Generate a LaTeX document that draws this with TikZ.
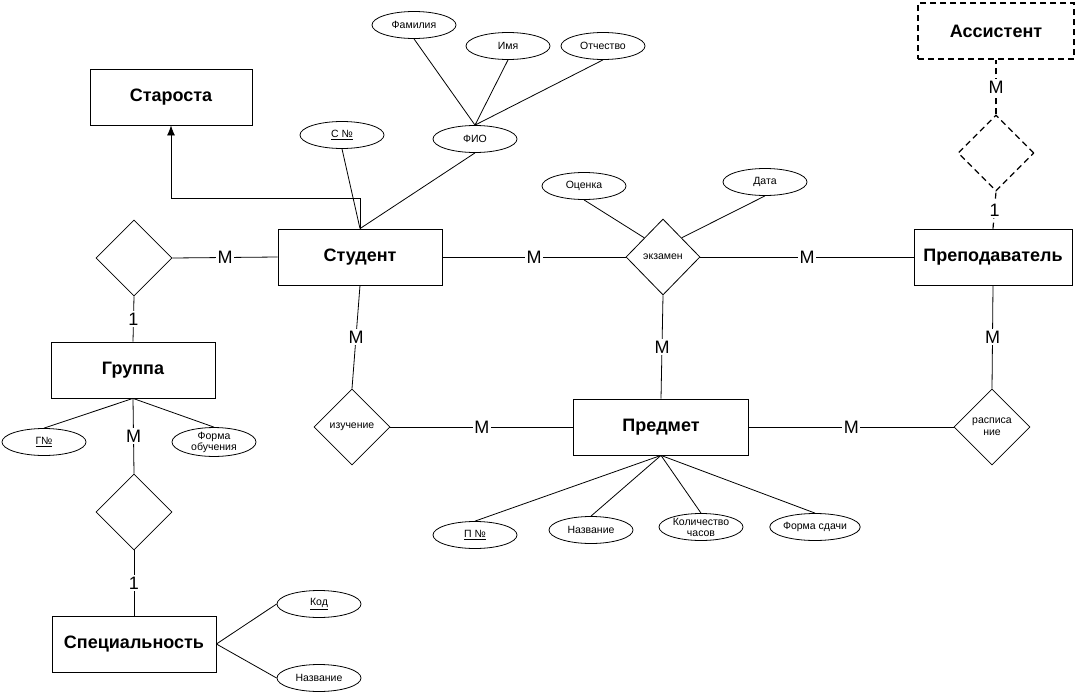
\documentclass[tikz,border=0pt]{standalone}
\usepackage{fontspec}
\setmainfont{Liberation Sans}
\usetikzlibrary{arrows,arrows.meta,shapes}

\begin{document}
\begin{tikzpicture}[x=1pt,y=-1pt,>={Latex[length=10pt,width=8pt]},line width=0.8pt]
  \tikzstyle{entity}=[rectangle,draw,minimum width=164pt,minimum height=56pt,
              font=\fontsize{18}{20}\selectfont\bfseries]
  \tikzstyle{relation}=[diamond,draw,minimum width=76pt,minimum height=76pt,
              inner sep=0pt,align=center,font=\fontsize{10.5}{12}\selectfont]
  \tikzstyle{attr}=[ellipse,draw,minimum width=84pt,minimum height=27pt,
              inner sep=0pt,align=center,font=\fontsize{10.5}{11}\selectfont]
  \tikzstyle{card}=[fill=white,inner sep=1.5pt,font=\fontsize{18}{18}\selectfont]
  \tikzstyle{weak}=[dash pattern=on 6pt off 4pt]
  \useasboundingbox (0,0) rectangle (1076,696);

  % entities
  \node [entity,minimum width=162pt] (star) at (171,97) {Староста};
  \node [entity] (stud) at (360,257) {Студент};
  \node [entity,minimum width=158pt] (prep) at (993,257) {Преподаватель};
  \node [entity,minimum width=156pt,weak,line width=1.6pt] (asst) at (996,31) {Ассистент};
  \node [entity] (grp) at (133,370) {Группа};
  \node [entity] (spec) at (134,644) {Специальность};
  \node [entity,minimum width=175pt] (subj) at (661,427) {Предмет};

  % relations
  \node [relation] (r1) at (134,258) {};
  \node [relation] (r2) at (134,512) {};
  \node [relation,minimum width=74pt] (ekz) at (663,257) {экзамен};
  \node [relation] (izu) at (352,427) {изучение};
  \node [relation] (rasp) at (992,427) {расписа\\ние};
  \node [relation,weak,line width=1.2pt] (r3) at (996,153) {};

  % attributes
  \node [attr] (fam) at (414,25) {Фамилия};
  \node [attr] (imya) at (508,46) {Имя};
  \node [attr] (otch) at (603,46) {Отчество};
  \node [attr] (fio) at (475,139) {ФИО};
  \node [attr] (cnum) at (342,135) {\underline{С №}};
  \node [attr] (ocen) at (584,186) {Оценка};
  \node [attr] (data) at (765,182) {Дата};
  \node [attr] (gnum) at (44,442) {\underline{Г№}};
  \node [attr] (forma) at (214,442) {Форма\\обучения};
  \node [attr] (pnum) at (475,535) {\underline{П №}};
  \node [attr] (nazv) at (591,530) {Название};
  \node [attr] (kolvo) at (701,527) {Количество\\часов};
  \node [attr] (fsd) at (815,527) {Форма сдачи};
  \node [attr] (kod) at (319,604) {\underline{Код}};
  \node [attr] (nazv2) at (319,678) {Название};

  % attribute links
  \draw (fam.south) -- (fio.north) (imya.south) -- (fio.north) (otch.south) -- (fio.north);
  \draw (fio.south) -- (stud.north) (cnum.south) -- (stud.north);
  \draw (ocen.south) -- (ekz.north west) (data.south) -- (ekz.north east);
  \draw (gnum.north) -- (grp.south) (forma.north) -- (grp.south);
  \foreach \a in {pnum,nazv,kolvo,fsd}
    \draw (\a.north) -- (subj.south);
  \draw (kod.west) -- (spec.east) (nazv2.west) -- (spec.east);

  % student is a class monitor
  \coordinate (knee) at (360,198);
  \draw [->] (stud.north) -- (knee) -| (star.south);

  % relationships
  \draw (r1.east) -- node[card]{M} (stud.west);
  \draw (r1.south) -- node[card]{1} (grp.north);
  \draw (grp.south) -- node[card]{M} (r2.north);
  \draw (r2.south) -- node[card]{1} (spec.north);
  \draw (stud.east) -- node[card]{M} (ekz.west);
  \draw (ekz.east) -- node[card]{M} (prep.west);
  \draw (ekz.south) -- node[card]{M} (subj.north);
  \draw (stud.south) -- node[card]{M} (izu.north);
  \draw (izu.east) -- node[card]{M} (subj.west);
  \draw (subj.east) -- node[card]{M} (rasp.west);
  \draw (prep.south) -- node[card]{M} (rasp.north);
  \draw [weak,line width=1.2pt] (prep.north) -- node[card]{1} (r3.south);
  \draw [weak,line width=1.2pt] (r3.north) -- node[card]{M} (asst.south);
\end{tikzpicture}
\end{document}
